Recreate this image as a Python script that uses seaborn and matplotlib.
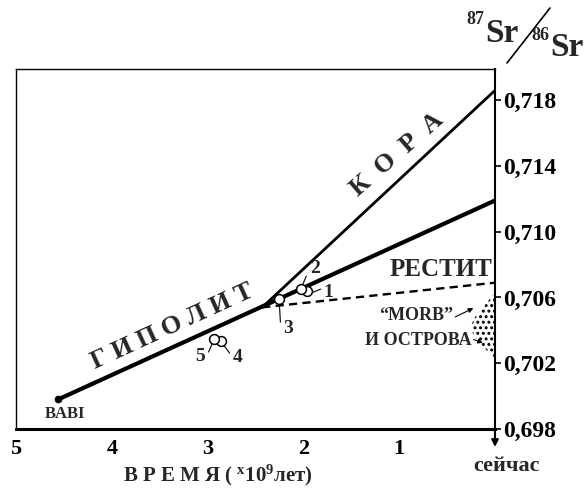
import numpy as np
import pandas as pd
import matplotlib
matplotlib.use("Agg")
import matplotlib.pyplot as plt
import seaborn as sns

# --- data (time in 10^9 years, 87Sr/86Sr) ---
thick_time = [4.56, 0.0]          # BABI -> mantle (hypolith) line
thick_sr = [0.6998, 0.7119]
crust_time = [2.43, 0.0]          # crust branch
crust_sr = [0.7054, 0.7186]
restite_time = [2.43, 0.0]        # restite (dashed)
restite_sr = [0.7054, 0.7069]

babi_time = [4.56]
babi_sr = [0.6998]

sample_ids = ['1', '2', '3', '4', '5']
sample_time = [1.96, 2.03, 2.25, 2.86, 2.93]
sample_sr = [0.70639, 0.70649, 0.70590, 0.70335, 0.70347]

# MORB / ocean islands field (stippled lens at the present day axis)
field_sr = [0.7063, 0.7058, 0.7053, 0.7048, 0.7043, 0.7038, 0.7033, 0.7028, 0.7022]
field_time = [0.0, 0.07, 0.14, 0.21, 0.25, 0.23, 0.17, 0.09, 0.0]

x_ticks = [5, 4, 3, 2, 1]
x_tick_labels = ['5', '4', '3', '2', '1']
y_ticks = [0.698, 0.702, 0.706, 0.710, 0.714, 0.718]
y_tick_labels = ['0,698', '0,702', '0,706', '0,710', '0,714', '0,718']

# ---------------------------------------------------------------
sns.set_theme(style="white")
plt.rcParams['font.family'] = ['Liberation Serif', 'DejaVu Serif']
plt.rcParams['font.weight'] = 'bold'
plt.rcParams['mathtext.fontset'] = 'custom'
plt.rcParams['mathtext.rm'] = 'Liberation Serif:bold'
plt.rcParams['mathtext.it'] = 'Liberation Serif:bold'
plt.rcParams['mathtext.bf'] = 'Liberation Serif:bold'
plt.rcParams['hatch.linewidth'] = 1.4

fig = plt.figure(figsize=(5.85, 4.9), dpi=100)
ax = fig.add_axes([16 / 585, 61 / 490, 479 / 585, 360 / 490])

# lines
sns.lineplot(x=thick_time, y=thick_sr, color='black', lw=3.0, sort=False, estimator=None, ax=ax)
sns.lineplot(x=crust_time, y=crust_sr, color='black', lw=2.0, sort=False, estimator=None, ax=ax)
sns.lineplot(x=restite_time, y=restite_sr, color='black', lw=1.7, sort=False, estimator=None,
             linestyle=(0, (3.5, 2.2)), ax=ax)

# stippled field
ax.fill_betweenx(field_sr, field_time, 0, facecolor='none', edgecolor='black',
                 hatch='...', linewidth=0, zorder=2)

# BABI and samples
sns.scatterplot(x=babi_time, y=babi_sr, color='black', s=26, edgecolor='black', zorder=5, ax=ax)
samples = pd.DataFrame({'id': sample_ids, 't': sample_time, 'sr': sample_sr})
sns.scatterplot(data=samples, x='t', y='sr', s=50, color='white', edgecolor='black',
                linewidth=1.1, zorder=6, ax=ax)

# sample labels with leader lines: (text pos, line start, line end)
leaders = {
    '1': ((1.74, 0.70633), (1.92, 0.70627), (1.82, 0.70651)),
    '2': ((1.88, 0.70779), (2.01, 0.70675), (1.97, 0.70730)),
    '3': ((2.16, 0.70414), (2.25, 0.70554), (2.24, 0.70450)),
    '4': ((2.69, 0.70232), (2.85, 0.70323), (2.77, 0.70262)),
    '5': ((3.08, 0.70238), (2.94, 0.70335), (2.99, 0.70268)),
}
for lab, (tp, p0, p1) in leaders.items():
    ax.plot([p0[0], p1[0]], [p0[1], p1[1]], color='black', lw=0.8, zorder=4)
    ax.text(tp[0], tp[1], lab, fontsize=14, ha='center', va='center')

ax.text(4.49, 0.69891, 'BABI', fontsize=12, ha='center', va='center')

# curve names
ax.text(3.37, 0.70425, 'Г И П О Л И Т', fontsize=19, rotation=24.6,
        ha='center', va='center', rotation_mode='anchor')
ax.text(1.02, 0.71470, 'К  О  Р  А', fontsize=19, rotation=41,
        ha='center', va='center', rotation_mode='anchor')
ax.text(0.56, 0.70772, 'РЕСТИТ', fontsize=18, ha='center', va='center')
ax.text(0.82, 0.70493, '\u201cMORB\u201d', fontsize=13, ha='center', va='center')
ax.text(0.80, 0.70341, 'И ОСТРОВА', fontsize=13, ha='center', va='center')
ax.annotate('', xy=(0.20, 0.70542), xytext=(0.44, 0.70475),
            arrowprops=dict(arrowstyle='-|>', color='black', lw=0.8, mutation_scale=7))
ax.annotate('', xy=(0.10, 0.70318), xytext=(0.25, 0.70350),
            arrowprops=dict(arrowstyle='-|>', color='black', lw=0.8, mutation_scale=7))

# axes
ax.set_xlim(5, 0)
ax.set_ylim(0.698, 0.7199)
ax.set_xticks(x_ticks)
ax.set_xticklabels(x_tick_labels, fontsize=16, fontweight='bold')
ax.yaxis.tick_right()
ax.set_yticks(y_ticks)
ax.set_yticklabels(y_tick_labels, fontsize=17, fontweight='bold')
ax.tick_params(axis='x', direction='out', length=4, width=1.5, pad=3, colors='black')
ax.tick_params(axis='y', direction='out', length=4, width=1.2, pad=2, colors='black')
ax.set_xlabel('')
ax.set_ylabel('')
for side, w in [('left', 1.0), ('top', 1.0), ('right', 1.5), ('bottom', 2.2)]:
    ax.spines[side].set_visible(True)
    ax.spines[side].set_color('black')
    ax.spines[side].set_linewidth(w)

# downward arrow on the present-day axis
ax.annotate('', xy=(0, -0.05), xytext=(0, 0), xycoords=('data', 'axes fraction'),
            textcoords=('data', 'axes fraction'),
            arrowprops=dict(arrowstyle='-|>', color='black', lw=1.5, mutation_scale=10,
                            shrinkA=0, shrinkB=0), annotation_clip=False)

fig.text(506 / 585, 1 - 466 / 490, 'сейчас', fontsize=16, ha='center', va='center')
fig.text(218 / 585, 1 - 475 / 490, 'В Р Е М Я ( $^{\\mathrm{x}}$10$^{9}$лет)', fontsize=15,
         ha='center', va='center')

# y axis title 87Sr/86Sr with slash
fig.text(475 / 585, 1 - 20 / 490, '87', fontsize=13, ha='center', va='center')
fig.text(502 / 585, 1 - 34 / 490, 'Sr', fontsize=24, ha='center', va='center')
fig.text(540 / 585, 1 - 36 / 490, '86', fontsize=13, ha='center', va='center')
fig.text(567 / 585, 1 - 48 / 490, 'Sr', fontsize=24, ha='center', va='center')
fig.add_artist(plt.Line2D([507 / 585, 550 / 585], [1 - 63 / 490, 1 - 8 / 490],
                          transform=fig.transFigure, color='black', lw=1.2))

fig.savefig('out.png', dpi=100)
